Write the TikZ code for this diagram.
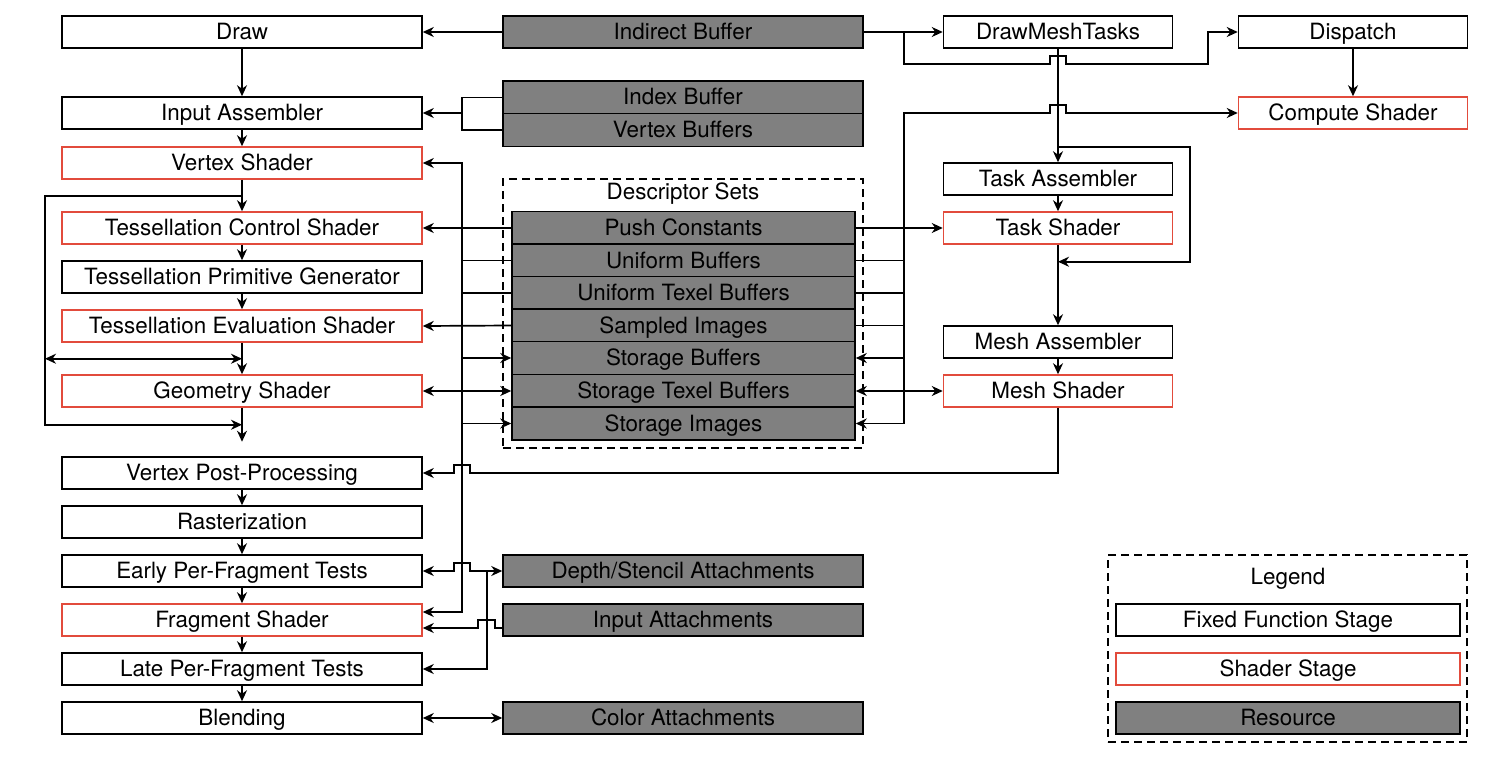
\documentclass[tikz,border=0pt]{standalone}
\usepackage{fontspec}
\setmainfont{TeX Gyre Heros}
\usetikzlibrary{arrows.meta}
\definecolor{shaderred}{RGB}{226,75,60}
\definecolor{resgray}{RGB}{128,128,128}
\tikzset{%
  >={Stealth[width=10pt,length=11pt,inset=3.5pt]},
  % Specifications for style of nodes:
            base/.style = {rectangle, draw=black, line width=1.5pt,
                           minimum width=360pt, minimum height=32pt,
                           inner sep=0pt, text centered,
                           text height=15pt, text depth=0pt},
          fixbox/.style = {base, fill=white},
       shaderbox/.style = {base, fill=white, draw=shaderred},
          resbox/.style = {base, fill=resgray},
         descbox/.style = {resbox, minimum width=343pt, minimum height=32.7pt},
         meshbox/.style = {fixbox, minimum width=229pt},
   meshshaderbox/.style = {shaderbox, minimum width=229pt},
       legendbox/.style = {minimum width=344pt},
        groupbox/.style = {rectangle, draw=black, line width=1.5pt,
                           dash pattern=on 8pt off 5pt},
}

\begin{document}
\begin{tikzpicture}[x=1pt, y=-1pt, line width=1.7pt,
    font=\fontsize{22.4}{27}\selectfont]
  \useasboundingbox (0,0) rectangle (1512,757);
  % Specification of nodes (position, etc.)

  % graphics pipeline
  \node (draw)     [fixbox]    at (242,32)  {Draw};
  \node (input)    [fixbox]    at (242,113) {Input Assembler};
  \node (vertex)   [shaderbox] at (242,163) {Vertex Shader};
  \node (tcs)      [shaderbox] at (242,228) {Tessellation Control Shader};
  \node (tpg)      [fixbox]    at (242,277) {Tessellation Primitive Generator};
  \node (tes)      [shaderbox] at (242,326) {Tessellation Evaluation Shader};
  \node (geom)     [shaderbox] at (242,391) {Geometry Shader};
  \node (vpp)      [fixbox]    at (242,473) {Vertex Post-Processing};
  \node (raster)   [fixbox]    at (242,522) {Rasterization};
  \node (early)    [fixbox]    at (242,571) {Early Per-Fragment Tests};
  \node (frag)     [shaderbox] at (242,620) {Fragment Shader};
  \node (late)     [fixbox]    at (242,669) {Late Per-Fragment Tests};
  \node (blend)    [fixbox]    at (242,718) {Blending};

  % resources
  \node (indirect) [resbox] at (683,32) {Indirect Buffer};
  \node (index)    [resbox, minimum height=32.7pt] at (683,97.5) {Index Buffer};
  \node (vbuf)     [resbox, minimum height=32.7pt] at (683,130)  {Vertex Buffers};

  \node (dsets)    [groupbox, minimum width=360pt, minimum height=269pt] at (683,313.5) {};
  \node (dsetslabel) at (683,194) {Descriptor Sets};
  \node (push)     [descbox] at (683.5,228)   {Push Constants};
  \node (ubuf)     [descbox] at (683.5,260.5) {Uniform Buffers};
  \node (utbuf)    [descbox] at (683.5,293)   {Uniform Texel Buffers};
  \node (sampled)  [descbox] at (683.5,325.5) {Sampled Images};
  \node (sbuf)     [descbox] at (683.5,358)   {Storage Buffers};
  \node (stbuf)    [descbox] at (683.5,391)   {Storage Texel Buffers};
  \node (simg)     [descbox] at (683.5,423.5) {Storage Images};

  \node (depth)    [resbox] at (683,571) {Depth/Stencil Attachments};
  \node (inatt)    [resbox] at (683,620) {Input Attachments};
  \node (color)    [resbox] at (683,718) {Color Attachments};

  % mesh and compute
  \node (drawmesh)   [meshbox]       at (1058,32)  {DrawMeshTasks};
  \node (taskasm)    [meshbox]       at (1058,179) {Task Assembler};
  \node (taskshader) [meshshaderbox] at (1058,228) {Task Shader};
  \node (meshasm)    [meshbox]       at (1058,342) {Mesh Assembler};
  \node (meshshader) [meshshaderbox] at (1058,391) {Mesh Shader};
  \node (dispatch)   [meshbox]       at (1353,32)  {Dispatch};
  \node (compute)    [meshshaderbox] at (1353,113) {Compute Shader};

  % legend
  \node (legend)      [groupbox, minimum width=359pt, minimum height=187pt] at (1287.5,648.5) {};
  \node (legendlabel) at (1288,579) {Legend};
  \node (lfixed)  [fixbox, legendbox]    at (1288,620) {Fixed Function Stage};
  \node (lshader) [shaderbox, legendbox] at (1288,669) {Shader Stage};
  \node (lres)    [resbox, legendbox]    at (1288,718) {Resource};

  % buses
  \coordinate (lbus)  at (462,0);
  \coordinate (rbus)  at (904,0);
  \coordinate (dsbus) at (487,0);

  % pipeline flow
  \draw[->] (draw) -- (input);
  \draw[->] (input) -- (vertex);
  \draw[->] (vertex) -- (tcs);
  \draw[->] (tcs) -- (tpg);
  \draw[->] (tpg) -- (tes);
  \draw[->] (tes) -- (geom);
  \draw[->] (geom.south) -- ++(0,34);
  \draw[->] (vertex.south) ++(0,16) -- ++(-197,0) -- ++(0,229) -- ++(197,0);
  \draw[<->] (tes.south) ++(-197,16) -- ++(197,0);
  \draw[->] (vpp) -- (raster);
  \draw[->] (raster) -- (early);
  \draw[->] (early) -- (frag);
  \draw[->] (frag) -- (late);
  \draw[->] (late) -- (blend);

  % vertex input
  \draw[->] (indirect.west) -- (draw.east);
  \draw (index.west) -| (input.east -| lbus) |- (vbuf.west);
  \draw[->] (input.east -| lbus) -- (input.east);

  % descriptor sets, left side
  \draw[<->] (vertex.east) -- (vertex.east -| lbus) |- ([yshift=8pt]frag.east);
  \draw[->] (push.west) -- (tcs.east);
  \draw (ubuf.west) -- (ubuf.west -| lbus);
  \draw (utbuf.west) -- (utbuf.west -| lbus);
  \draw[->] (sampled.west) -- (tes.east);
  \draw[->] (sbuf.west -| lbus) -- (sbuf.west);
  \draw[<->] (geom.east) -- (stbuf.west);
  \draw[->] (simg.west -| lbus) -- (simg.west);

  % descriptor sets, right side
  \draw[<->] (simg.east) -- (simg.east -| rbus) -- (rbus |- compute.west)
      -- ++(146,0) -- ++(0,-8) -- ++(16,0) -- ++(0,8) -- (compute.west);
  \draw[->] (push.east) -- (taskshader.west);
  \draw (ubuf.east) -- (ubuf.east -| rbus);
  \draw (utbuf.east) -- (utbuf.east -| rbus);
  \draw (sampled.east) -- (sampled.east -| rbus);
  \draw[->] (sbuf.east -| rbus) -- (sbuf.east);
  \draw[<->] (stbuf.east) -- (meshshader.west);

  % mesh tasks and dispatch
  \draw[->] (indirect.east) -- (drawmesh.west);
  \draw[->] (indirect.east -| rbus) -- ++(0,32) -- ++(146,0) -- ++(0,-8)
      -- ++(16,0) -- ++(0,8) -- ++(142,0) |- (dispatch.west);
  \draw[->] (dispatch) -- (compute);
  \draw[->] (drawmesh) -- (taskasm);
  \draw[->] (drawmesh.south) ++(0,98) -- ++(132,0) -- ++(0,115) -- ++(-132,0);
  \draw[->] (taskasm) -- (taskshader);
  \draw[->] (taskshader) -- (meshasm);
  \draw[->] (meshasm) -- (meshshader);
  \draw[->] (meshshader.south) |- ([xshift=8pt]vpp.east -| lbus) -- ++(0,-8)
      -- ++(-16,0) -- ++(0,8) -- (vpp.east);

  % attachments
  \draw[<->] (early.east) -- ([xshift=-8pt]early.east -| lbus) -- ++(0,-8)
      -- ++(16,0) -- ++(0,8) -- (depth.west);
  \draw[->] (depth.west -| dsbus) |- (late.east);
  \draw[->] ([yshift=-8pt]inatt.west) -- ++(-7,0) -- ++(0,-8) -- ++(-17,0)
      -- ++(0,8) -- ([yshift=-8pt]frag.east);
  \draw[<->] (blend.east) -- (color.west);

\end{tikzpicture}
\end{document}
